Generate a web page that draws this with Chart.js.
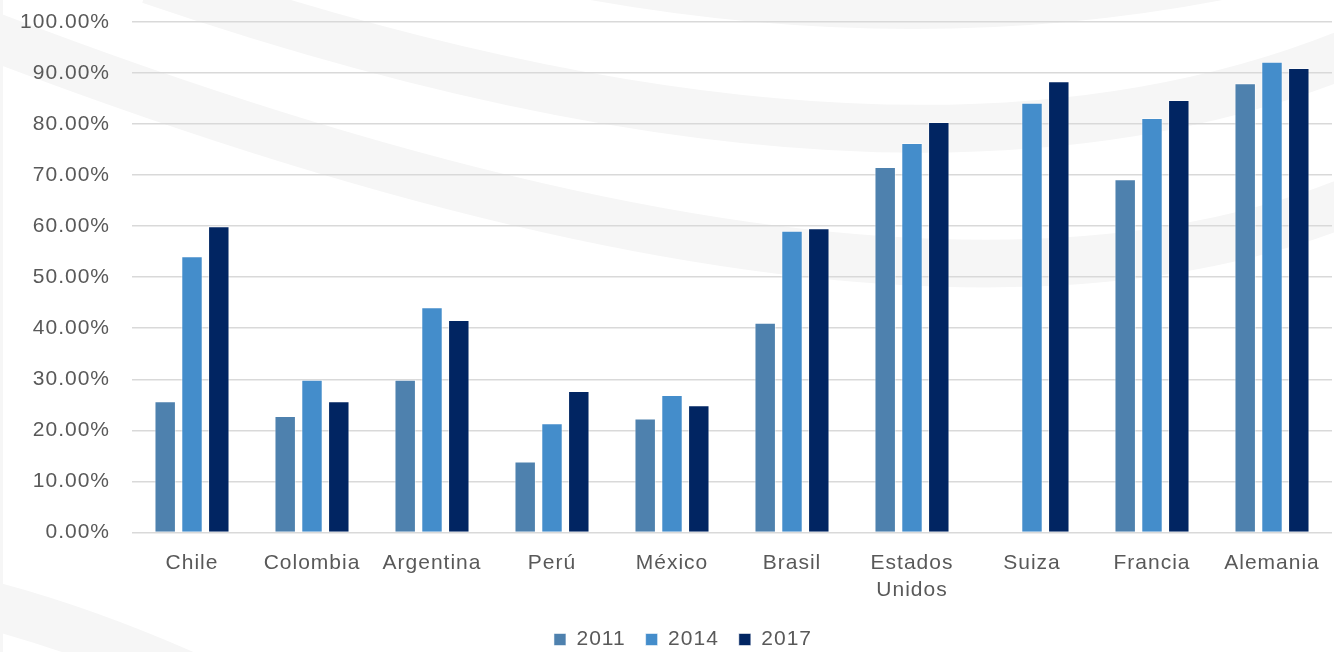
<!DOCTYPE html>
<html>
<head>
<meta charset="utf-8">
<script src="https://cdn.jsdelivr.net/npm/chart.js@4"></script>
<style>
  html, body { margin: 0; padding: 0; background: #fff; }
  #wrap { width: 1334px; height: 652px; }
</style>
</head>
<body>
<div id="wrap"><canvas id="chart" width="1334" height="652"></canvas></div>
<script>
// Categories and series (percent values)
const countries = ['Chile', 'Colombia', 'Argentina', 'Perú', 'México', 'Brasil', ['Estados', 'Unidos'], 'Suiza', 'Francia', 'Alemania']
const years = ['2011', '2014', '2017']
const values2011 = [25.7, 22.8, 29.9, 13.9, 22.3, 41.1, 71.6, null, 69.2, 88.0]
const values2014 = [54.1, 29.9, 44.1, 21.4, 26.9, 59.1, 76.3, 84.2, 81.2, 92.2]
const values2017 = [60.0, 25.7, 41.6, 27.7, 24.9, 59.6, 80.4, 88.4, 84.7, 91.0]
const yTicks = [0, 10, 20, 30, 40, 50, 60, 70, 80, 90, 100]

const colors = ['#4e81ae', '#448dcb', '#012562']
const textColor = '#595959'
const fontFamily = '"Liberation Sans", Arial, sans-serif'

// Faint grey swooshes in the background
const backdrop = {
    id: 'backdrop',
    beforeDraw(chart) {
        const ctx = chart.ctx
        ctx.save()
        ctx.strokeStyle = '#f6f6f6'
        ctx.lineWidth = 48
        ctx.lineCap = 'butt'
        const curves = [
            [560, -30, 920, 40, 1250, -30],
            [150, -20, 940, 250, 1400, 30],
            [-50, 20, 1000, 430, 1450, 150],
            [-30, 600, 100, 632, 240, 700]
        ]
        curves.forEach(c => {
            ctx.beginPath()
            ctx.moveTo(c[0], c[1])
            ctx.quadraticCurveTo(c[2], c[3], c[4], c[5])
            ctx.stroke()
        })
        ctx.fillStyle = '#f6f6f6'
        ctx.fillRect(0, 0, 3, chart.height)
        ctx.restore()
    }
}

// Slightly wider letter spacing, like the original rendering
const spacing = {
    id: 'spacing',
    beforeLayout(chart) { chart.ctx.letterSpacing = '1px' },
    beforeDraw(chart) { chart.ctx.letterSpacing = '1px' }
}

// Nudge the legend a little lower and to the right
const legendShift = {
    id: 'legendShift',
    afterLayout(chart) {
        const lg = chart.legend
        lg.top += 8
        lg.bottom += 8
        lg.left += 17
        lg.right += 17
    }
}

const datasets = [values2011, values2014, values2017].map((data, i) => ({
    label: years[i],
    data: data,
    backgroundColor: colors[i],
    borderColor: 'rgba(255,255,255,0.55)',
    borderWidth: 1,
    categoryPercentage: 0.67,
    barPercentage: 0.8
}))

new Chart(document.getElementById('chart'), {
    type: 'bar',
    data: { labels: countries, datasets: datasets },
    options: {
        responsive: false,
        animation: false,
        devicePixelRatio: 1,
        layout: { padding: { top: 0, right: 2, left: 0, bottom: 0 } },
        plugins: {
            tooltip: { enabled: false },
            legend: {
                position: 'bottom',
                labels: {
                    color: textColor,
                    font: { family: fontFamily, size: 21 },
                    boxWidth: 12,
                    boxHeight: 12,
                    padding: 20
                }
            }
        },
        scales: {
            x: {
                grid: { display: false },
                border: { display: false },
                afterFit(scale) { scale.height -= 12 },
                ticks: {
                    color: textColor,
                    font: { family: fontFamily, size: 21, lineHeight: 1.3 },
                    padding: 9,
                    maxRotation: 0,
                    autoSkip: false
                }
            },
            y: {
                min: 0,
                max: 100,
                afterBuildTicks(scale) { scale.ticks = yTicks.map(v => ({ value: v })) },
                afterFit(scale) {
                    scale.width = 132
                    scale.paddingTop = 22
                    scale.paddingBottom = 13
                },
                grid: { color: '#d9d9d9', lineWidth: 1.5, drawTicks: false },
                border: { display: false },
                ticks: {
                    color: textColor,
                    font: { family: fontFamily, size: 21 },
                    padding: 22,
                    callback: v => v.toFixed(2) + '%'
                }
            }
        }
    },
    plugins: [backdrop, spacing, legendShift]
})
</script>
</body>
</html>
